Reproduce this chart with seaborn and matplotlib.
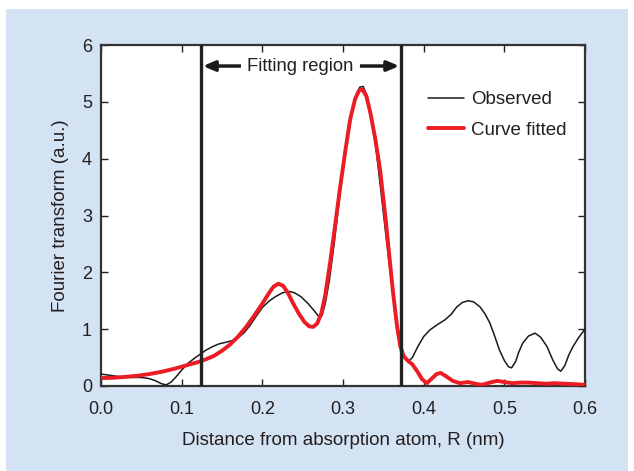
import numpy as np
import pandas as pd
import matplotlib
matplotlib.use("Agg")
import matplotlib.pyplot as plt
from matplotlib.patches import Rectangle
import seaborn as sns

# ---- data ----
obs_x = [0.000, 0.010, 0.020, 0.030, 0.040, 0.050, 0.060, 0.068, 0.075, 0.081,
         0.087, 0.093, 0.100, 0.108, 0.116, 0.123, 0.130, 0.138, 0.146, 0.155,
         0.163, 0.170, 0.177, 0.185, 0.193, 0.200, 0.208, 0.216, 0.225, 0.233,
         0.240, 0.248, 0.256, 0.264, 0.270, 0.274, 0.278, 0.283, 0.289, 0.296,
         0.303, 0.310, 0.316, 0.321, 0.325, 0.330, 0.336, 0.342, 0.348, 0.354,
         0.360, 0.366, 0.372, 0.377, 0.381, 0.386, 0.393, 0.400, 0.408, 0.417,
         0.426, 0.434, 0.441, 0.448, 0.455, 0.462, 0.470, 0.476, 0.482, 0.488,
         0.494, 0.500, 0.505, 0.509, 0.514, 0.518, 0.523, 0.530, 0.538, 0.545,
         0.553, 0.560, 0.566, 0.570, 0.575, 0.580, 0.585, 0.592, 0.600]
obs_y = [0.21, 0.19, 0.17, 0.155, 0.15, 0.15, 0.13, 0.09, 0.04, 0.02,
         0.07, 0.16, 0.28, 0.40, 0.49, 0.56, 0.63, 0.69, 0.74, 0.77,
         0.80, 0.85, 0.93, 1.07, 1.24, 1.38, 1.49, 1.57, 1.64, 1.665,
         1.64, 1.57, 1.46, 1.33, 1.22, 1.24, 1.45, 1.85, 2.50, 3.35,
         4.15, 4.75, 5.12, 5.26, 5.27, 5.10, 4.70, 4.05, 3.30, 2.55,
         1.85, 1.20, 0.70, 0.48, 0.43, 0.50, 0.70, 0.87, 0.99, 1.08,
         1.16, 1.26, 1.39, 1.47, 1.50, 1.48, 1.39, 1.27, 1.11, 0.88,
         0.63, 0.45, 0.34, 0.32, 0.43, 0.60, 0.76, 0.88, 0.93, 0.86,
         0.69, 0.46, 0.30, 0.26, 0.36, 0.55, 0.69, 0.85, 1.00]

fit_x = [0.000, 0.015, 0.030, 0.045, 0.060, 0.075, 0.090, 0.105, 0.120, 0.130,
         0.140, 0.150, 0.160, 0.170, 0.180, 0.190, 0.200, 0.208, 0.214, 0.220,
         0.226, 0.232, 0.238, 0.245, 0.252, 0.258, 0.263, 0.268, 0.273, 0.278,
         0.284, 0.290, 0.296, 0.303, 0.309, 0.315, 0.320, 0.324, 0.329, 0.334,
         0.340, 0.346, 0.352, 0.357, 0.362, 0.367, 0.371, 0.375, 0.380, 0.386,
         0.392, 0.398, 0.404, 0.410, 0.416, 0.421, 0.428, 0.436, 0.445, 0.455,
         0.464, 0.472, 0.482, 0.491, 0.500, 0.510, 0.520, 0.530, 0.540, 0.552,
         0.562, 0.575, 0.590, 0.600]
fit_y = [0.14, 0.145, 0.16, 0.18, 0.21, 0.25, 0.30, 0.36, 0.42, 0.47,
         0.53, 0.62, 0.73, 0.87, 1.04, 1.24, 1.45, 1.63, 1.75, 1.80,
         1.76, 1.63, 1.46, 1.28, 1.13, 1.05, 1.04, 1.10, 1.27, 1.60,
         2.17, 2.80, 3.45, 4.15, 4.70, 5.05, 5.20, 5.22, 5.10, 4.80,
         4.35, 3.80, 3.05, 2.35, 1.65, 1.05, 0.70, 0.53, 0.45, 0.38,
         0.26, 0.12, 0.05, 0.13, 0.21, 0.23, 0.17, 0.09, 0.05, 0.07,
         0.04, 0.02, 0.06, 0.09, 0.07, 0.05, 0.06, 0.06, 0.05, 0.04,
         0.05, 0.04, 0.03, 0.02]

region_bounds = [0.124, 0.372]
x_ticks = [0.0, 0.1, 0.2, 0.3, 0.4, 0.5, 0.6]
y_ticks = [0, 1, 2, 3, 4, 5, 6]

obs_df = pd.DataFrame({"R": obs_x, "FT": obs_y})
fit_df = pd.DataFrame({"R": fit_x, "FT": fit_y})

sns.set_theme(style="ticks")
plt.rcParams['font.family'] = ['Liberation Sans', 'DejaVu Sans']
txt = "#231f20"
plt.rcParams['text.color'] = txt
plt.rcParams['axes.labelcolor'] = txt
plt.rcParams['xtick.color'] = txt
plt.rcParams['ytick.color'] = txt

fig = plt.figure(figsize=(6.34, 4.71), dpi=100)
fig.patch.set_facecolor("white")
bg = Rectangle((6/634, 0), 622/634, 462/471, transform=fig.transFigure,
               facecolor="#d4e3f4", edgecolor="none")
bg.set_zorder(-10)
fig.add_artist(bg)

ax = fig.add_axes([101/634, 1 - 386/471, 484/634, 341/471])
ax.set_zorder(5)
ax.set_facecolor("white")

sns.lineplot(data=obs_df, x="R", y="FT", ax=ax, color="#1a1a1a", lw=1.1,
             label="Observed", estimator=None, sort=False, zorder=3)
sns.lineplot(data=fit_df, x="R", y="FT", ax=ax, color="#ec1c24", lw=2.8,
             label="Curve fitted", estimator=None, sort=False, zorder=4)

for b in region_bounds:
    ax.axvline(b, color="#222222", lw=2.4, zorder=5)

ax.set_xlim(0, 0.6)
ax.set_ylim(0, 6)
ax.set_xticks(x_ticks)
ax.set_xticklabels([f"{v:.1f}" for v in x_ticks])
ax.set_yticks(y_ticks)
ax.tick_params(direction="in", top=True, right=True, length=5, width=1,
               labelsize=13)
ax.tick_params(axis="x", pad=11)
ax.tick_params(axis="y", pad=6.5)
for s in ax.spines.values():
    s.set_color("#333333")
    s.set_linewidth(1.6)

ax.set_xlabel("Distance from absorption atom, R (nm)", fontsize=13.5, labelpad=10)
ax.set_ylabel("Fourier transform (a.u.)", fontsize=13.5, labelpad=9)

# Fitting region label with arrows
ax.text(0.2472, 5.63, "Fitting region", ha="center", va="center", fontsize=13.2)
ax.annotate("", xy=(region_bounds[0] + 0.002, 5.63), xytext=(0.1735, 5.63),
            arrowprops=dict(arrowstyle="-|>,head_length=0.6,head_width=0.25",
                            color="#1a1a1a", lw=2.5, shrinkA=0, shrinkB=0,
                            capstyle="butt"))
ax.annotate("", xy=(region_bounds[1] - 0.002, 5.63), xytext=(0.3210, 5.63),
            arrowprops=dict(arrowstyle="-|>,head_length=0.6,head_width=0.25",
                            color="#1a1a1a", lw=2.5, shrinkA=0, shrinkB=0,
                            capstyle="butt"))

leg = ax.legend(loc="upper left", bbox_to_anchor=((428 - 101) / 484, 0.865),
                frameon=False, fontsize=13.5, handlelength=1.9,
                handletextpad=0.4, labelspacing=0.72, borderpad=0,
                borderaxespad=0)

fig.savefig("out.png", dpi=100)
